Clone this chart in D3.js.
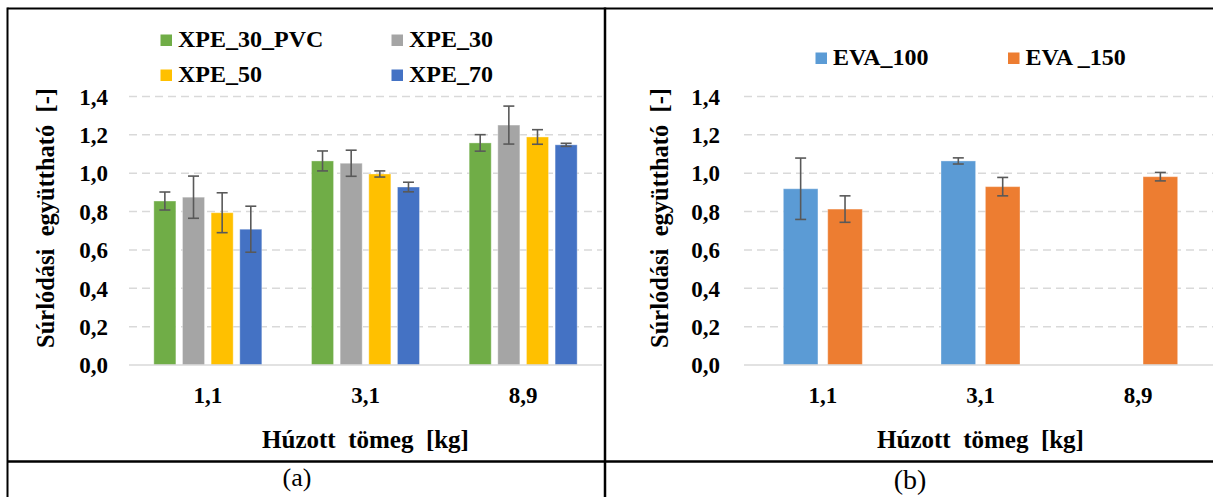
<!DOCTYPE html>
<html>
<head>
<meta charset="utf-8">
<script src="https://cdn.jsdelivr.net/npm/d3@7"></script>
<style>
  html, body { margin: 0; padding: 0; background: #ffffff; }
  svg { display: block; }
  svg text { font-family: 'Liberation Serif', 'Times New Roman', Times, serif; white-space: pre; }
</style>
</head>
<body>
<svg id="chart" width="1213" height="497"></svg>
<script>
// ---------- data ----------
const categories = ["1,1", "3,1", "8,9"];
const yTicks = [0, 0.2, 0.4, 0.6, 0.8, 1.0, 1.2, 1.4];

// panel (a)
const seriesA = ["XPE_30_PVC", "XPE_30", "XPE_50", "XPE_70"];
const xpe30pvc    = [0.855, 1.064, 1.158];
const xpe30pvcErr = [0.047, 0.052, 0.043];
const xpe30       = [0.875, 1.052, 1.251];
const xpe30Err    = [0.110, 0.068, 0.099];
const xpe50       = [0.794, 0.996, 1.189];
const xpe50Err    = [0.104, 0.016, 0.038];
const xpe70       = [0.708, 0.928, 1.148];
const xpe70Err    = [0.120, 0.025, 0.008];
const colorsA = ["#70AD47", "#A5A5A5", "#FFC000", "#4472C4"];

// panel (b)
const seriesB = ["EVA_100", "EVA _150"];
const eva100    = [0.919, 1.064, null];
const eva100Err = [0.160, 0.016, null];
const eva150    = [0.813, 0.930, 0.982];
const eva150Err = [0.069, 0.048, 0.022];
const colorsB = ["#5B9BD5", "#ED7D31"];

const xTitle = "Húzott  tömeg  [kg]";
const yTitle = "Súrlódási  együttható  [-]";

// ---------- drawing ----------
const FONT = "'Liberation Serif', 'Times New Roman', serif";
const svg = d3.select("#chart");
const fmt = v => d3.format(".1f")(v).replace(".", ",");

function drawPanel(cfg) {
  const g = svg.append("g").attr("font-family", FONT);
  const y = d3.scaleLinear().domain([0, 1.4]).range([365, 96.5]);
  const x0 = d3.scaleBand().domain(categories).range([cfg.left, cfg.left + 473]).padding(0);
  const x1 = d3.scaleBand().domain(cfg.series).range([0, cfg.groupW]).paddingInner(cfg.pad).paddingOuter(0);
  const off = (x0.bandwidth() - cfg.groupW) / 2;

  const clipId = "clip" + cfg.id;
  svg.append("clipPath").attr("id", clipId).append("rect")
    .attr("x", cfg.left - 2).attr("y", 0).attr("width", cfg.clipW).attr("height", 497);

  const plot = g.append("g").attr("clip-path", `url(#${clipId})`);

  // gridlines
  plot.append("g").selectAll("line").data(yTicks.filter(t => t > 0)).join("line")
    .attr("x1", cfg.left).attr("x2", cfg.left + 473)
    .attr("y1", d => y(d)).attr("y2", d => y(d))
    .attr("stroke", "#D9D9D9").attr("stroke-width", 1.5)
    .attr("stroke-dasharray", "8,5");

  // bars + error bars
  cfg.series.forEach((s, si) => {
    const vals = cfg.values[si], errs = cfg.errors[si];
    const data = categories.map((c, i) => ({ c, v: vals[i], e: errs[i] })).filter(d => d.v != null);
    plot.append("g").selectAll("rect").data(data).join("rect")
      .attr("x", d => x0(d.c) + off + x1(s))
      .attr("width", x1.bandwidth())
      .attr("y", d => y(d.v))
      .attr("height", d => y(0) - y(d.v))
      .attr("fill", cfg.colors[si])
      .attr("stroke", "rgba(255,255,255,0.35)").attr("stroke-width", 1);
    const eg = plot.append("g").attr("stroke", "#595959").attr("stroke-width", 1.6);
    data.forEach(d => {
      const cx = x0(d.c) + off + x1(s) + x1.bandwidth() / 2;
      eg.append("line").attr("x1", cx).attr("x2", cx).attr("y1", y(d.v + d.e)).attr("y2", y(d.v - d.e));
      eg.append("line").attr("x1", cx - 5.5).attr("x2", cx + 5.5).attr("y1", y(d.v + d.e)).attr("y2", y(d.v + d.e));
      eg.append("line").attr("x1", cx - 5.5).attr("x2", cx + 5.5).attr("y1", y(d.v - d.e)).attr("y2", y(d.v - d.e));
    });
  });

  // baseline
  plot.append("line").attr("x1", cfg.left).attr("x2", cfg.left + 473)
    .attr("y1", y(0)).attr("y2", y(0)).attr("stroke", "#D9D9D9").attr("stroke-width", 1.5);

  // y tick labels
  g.append("g").selectAll("text").data(yTicks).join("text")
    .attr("x", cfg.left - cfg.tickGap).attr("y", d => y(d)).attr("dy", "0.36em")
    .attr("text-anchor", "end").attr("font-size", 23).attr("font-weight", "bold")
    .attr("fill", "#000").text(fmt);

  // x tick labels
  g.append("g").selectAll("text").data(categories).join("text")
    .attr("x", d => x0(d) + x0.bandwidth() / 2).attr("y", 403)
    .attr("text-anchor", "middle").attr("font-size", 23).attr("font-weight", "bold")
    .attr("fill", "#000").text(d => d);

  // axis titles
  g.append("text").attr("x", cfg.left + 236.5).attr("y", 448)
    .attr("text-anchor", "middle").attr("font-size", 25).attr("font-weight", "bold")
    .text(xTitle);
  g.append("text").attr("transform", `translate(${cfg.yTitleX},${cfg.yTitleY}) rotate(-90)`)
    .attr("text-anchor", "middle").attr("dy", "0.35em").attr("font-size", 24.5).attr("font-weight", "bold")
    .text(yTitle);

  // legend
  const lg = g.append("g");
  cfg.legend.forEach((p, i) => {
    lg.append("rect").attr("x", p[0]).attr("y", p[1] - 12.5).attr("width", 11.5).attr("height", 11.5)
      .attr("fill", cfg.colors[i]);
    lg.append("text").attr("x", p[0] + 17.5).attr("y", p[1]).attr("font-size", 24).attr("font-weight", "bold")
      .text(cfg.series[i]);
  });
}

drawPanel({
  id: "A", left: 129, clipW: 480, groupW: 108, pad: 0.23, tickGap: 21,
  series: seriesA, colors: colorsA,
  values: [xpe30pvc, xpe30, xpe50, xpe70],
  errors: [xpe30pvcErr, xpe30Err, xpe50Err, xpe70Err],
  yTitleX: 45, yTitleY: 218,
  legend: [[160.5, 47], [391.5, 47], [160.5, 82], [391.5, 82]]
});

drawPanel({
  id: "B", left: 744, clipW: 480, groupW: 79, pad: 0.22, tickGap: 24,
  series: seriesB, colors: colorsB,
  values: [eva100, eva150],
  errors: [eva100Err, eva150Err],
  yTitleX: 659, yTitleY: 218,
  legend: [[815.5, 65], [1008, 65]]
});

// table frame
const frame = svg.append("g").attr("stroke", "#000");
frame.append("line").attr("x1", 7.5).attr("x2", 1213).attr("y1", 8.5).attr("y2", 8.5).attr("stroke-width", 2);
frame.append("line").attr("x1", 7.5).attr("x2", 7.5).attr("y1", 7.5).attr("y2", 497).attr("stroke-width", 2);
frame.append("line").attr("x1", 605).attr("x2", 605).attr("y1", 7.5).attr("y2", 497).attr("stroke-width", 2.5);
frame.append("line").attr("x1", 7.5).attr("x2", 1213).attr("y1", 461.5).attr("y2", 461.5).attr("stroke-width", 2.5);

svg.append("text").attr("x", 297).attr("y", 486).attr("text-anchor", "middle")
  .attr("font-family", FONT).attr("font-size", 26).text("(a)");
svg.append("text").attr("x", 910).attr("y", 489).attr("text-anchor", "middle")
  .attr("font-family", FONT).attr("font-size", 28).text("(b)");
</script>
</body>
</html>
